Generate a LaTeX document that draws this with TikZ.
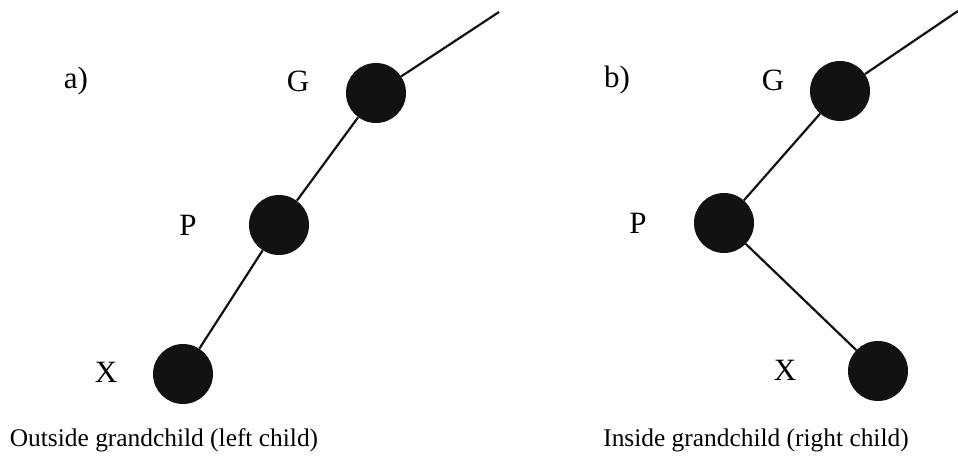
\documentclass[tikz,border=0pt]{standalone}
\usepackage{fontspec}
\setmainfont{Liberation Serif}
\begin{document}
\begin{tikzpicture}[x=1pt,y=-1pt,
  dot/.style={circle,fill=black!93,draw=none,minimum size=60pt,inner sep=0pt},
  lbl/.style={font=\fontsize{31}{34}\selectfont,inner sep=0pt,anchor=center},
  captext/.style={font=\fontsize{25.4}{28}\selectfont,inner sep=0pt,anchor=center},
  link/.style={line width=2.2pt,black!93}]
\useasboundingbox (0,0) rectangle (958,457);
% a)
\node[dot] (Ga) at (376,93) {};
\node[dot] (Pa) at (279,225) {};
\node[dot] (Xa) at (183,374) {};
\coordinate (Ea) at (499,12);
\draw[link] (Ga) -- (Ea);
\draw[link] (Ga) -- (Pa);
\draw[link] (Pa) -- (Xa);
\node[lbl] (la) at (76,81) {a)};
\node[lbl] (lGa) at (298,81) {G};
\node[lbl] (lPa) at (188,225) {P};
\node[lbl] (lXa) at (106,372) {X};
\node[captext] (ca) at (164,440) {Outside grandchild (left child)};
% b)
\node[dot] (Gb) at (840,91) {};
\node[dot] (Pb) at (724,223) {};
\node[dot] (Xb) at (878,371) {};
\coordinate (Eb) at (958,11);
\draw[link] (Gb) -- (Eb);
\draw[link] (Gb) -- (Pb);
\draw[link] (Pb) -- (Xb);
\node[lbl] (lb) at (617,80) {b)};
\node[lbl] (lGb) at (773,80) {G};
\node[lbl] (lPb) at (638,223) {P};
\node[lbl] (lXb) at (785,370) {X};
\node[captext] (cb) at (756,440) {Inside grandchild (right child)};
\end{tikzpicture}
\end{document}
